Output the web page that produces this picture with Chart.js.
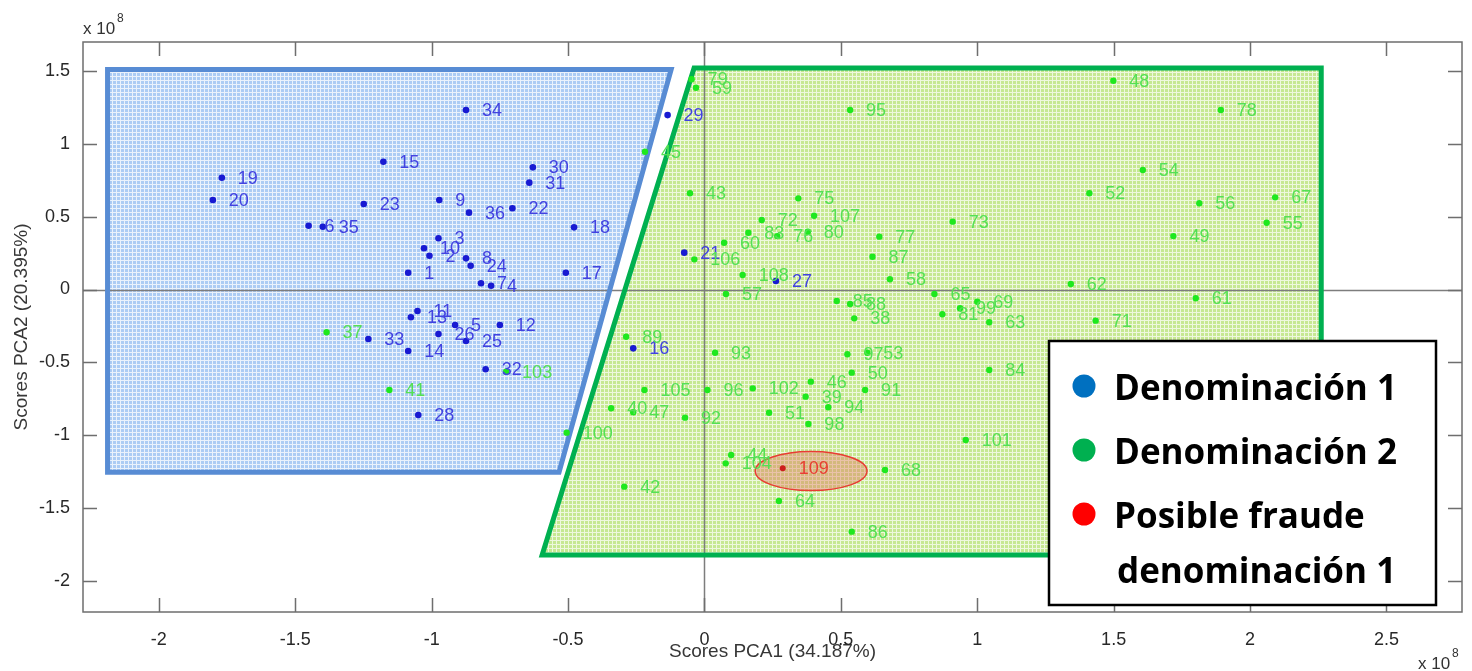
<!DOCTYPE html>
<html>
<head>
<meta charset="utf-8">
<script src="https://cdn.jsdelivr.net/npm/chart.js@4.4.1/dist/chart.umd.min.js"></script>
<style>
  html, body { margin: 0; padding: 0; background: #fff; }
  canvas { display: block; }
</style>
</head>
<body>
<canvas id="pca" width="1472" height="671"></canvas>
<script>
// PCA scores (units of 1e8) for each sample, grouped by denomination
const d1Ids = [1,2,3,4,5,6,7,8,9,10,11,12,13,14,15,16,17,18,19,20,21,22,23,24,25,26,27,28,29,30,31,32,33,34,35,36];
const d1X = [-1.086,-1.008,-0.975,-0.782,-0.914,-1.451,-0.819,-0.874,-0.972,-1.028,-1.052,-0.750,-1.076,-1.086,-1.177,-0.261,-0.508,-0.478,-1.769,-1.802,-0.074,-0.704,-1.249,-0.857,-0.874,-0.975,0.262,-1.049,-0.135,-0.629,-0.642,-0.802,-1.232,-0.874,-1.399,-0.863];
const d1Y = [0.115,0.232,0.352,0.026,-0.244,0.438,0.043,0.214,0.615,0.283,-0.148,-0.244,-0.191,-0.422,0.878,-0.404,0.115,0.427,0.768,0.615,0.253,0.558,0.587,0.163,-0.354,-0.306,0.058,-0.862,1.198,0.839,0.734,-0.548,-0.340,1.233,0.431,0.528];

const d2Ids = [37,38,39,40,41,42,43,44,45,46,47,48,49,50,51,52,53,54,55,56,57,58,59,60,61,62,63,64,65,67,68,69,71,72,73,75,76,77,78,79,80,81,83,84,85,86,87,88,89,91,92,93,94,95,96,97,98,99,100,101,102,103,104,105,106,107,108];
const d2X = [-1.385,0.549,0.371,-0.342,-1.155,-0.294,-0.053,0.098,-0.218,0.390,-0.261,1.499,1.719,0.540,0.237,1.411,0.597,1.607,2.061,1.814,0.079,0.680,-0.031,0.072,1.801,1.343,1.044,0.273,0.843,2.092,0.662,1.000,1.434,0.210,0.910,0.344,0.267,0.641,1.893,-0.047,0.379,0.872,0.161,1.044,0.485,0.540,0.616,0.534,-0.287,0.589,-0.071,0.039,0.454,0.534,0.011,0.524,0.381,0.937,-0.505,0.958,0.177,-0.727,0.078,-0.220,-0.037,0.402,0.140];
const d2Y = [-0.294,-0.198,-0.736,-0.816,-0.690,-1.354,0.661,-1.137,0.946,-0.633,-0.843,1.434,0.367,-0.571,-0.846,0.661,-0.434,0.821,0.459,0.592,-0.031,0.070,1.386,0.321,-0.060,0.038,-0.225,-1.453,-0.031,0.633,-1.240,-0.084,-0.214,0.477,0.466,0.626,0.367,0.363,1.233,1.444,0.397,-0.170,0.390,-0.553,-0.079,-1.663,0.225,-0.100,-0.324,-0.690,-0.880,-0.434,-0.809,1.233,-0.690,-0.445,-0.924,-0.129,-0.983,-1.034,-0.679,-0.565,-1.194,-0.690,0.207,0.507,0.100];

const fraudIds = [109];
const fraudX = [0.287];
const fraudY = [-1.228];

// Axis ticks
const xTickValues = [-2, -1.5, -1, -0.5, 0, 0.5, 1, 1.5, 2, 2.5];
const yTickValues = [-2, -1.5, -1, -0.5, 0, 0.5, 1, 1.5];

// Class regions (corners in score units) and the suspect sample's ellipse
const region1 = [[-2.188, 1.511], [-0.122, 1.511], [-0.533, -1.255], [-2.188, -1.255]];
const region2 = [[-0.038, 1.521], [2.261, 1.521], [2.261, -1.823], [-0.595, -1.823]];
const suspectEllipse = { cx: 0.391, cy: -1.247, rx: 0.205, ry: 0.134 };

const legendLabels = ['Denominación 1', 'Denominación 2', 'Posible fraude', 'denominación 1'];

const SANS = '"Liberation Sans", Arial, sans-serif';

function toPoints(xs, ys) { return xs.map((x, i) => ({ x: x, y: ys[i] })); }

function gridPattern(ctx, base, line) {
  const t = document.createElement('canvas');
  t.width = 4; t.height = 4;
  const g = t.getContext('2d');
  g.fillStyle = base; g.fillRect(0, 0, 4, 4);
  g.fillStyle = line;
  g.fillRect(0, 0, 4, 1);
  g.fillRect(0, 1, 1, 3);
  return ctx.createPattern(t, 'repeat');
}

function polyPath(ctx, xs, ys, pts) {
  ctx.beginPath();
  pts.forEach((p, i) => {
    const px = xs.getPixelForValue(p[0]), py = ys.getPixelForValue(p[1]);
    if (i === 0) ctx.moveTo(px, py); else ctx.lineTo(px, py);
  });
  ctx.closePath();
}

// Shaded class regions, zero lines and the suspect ellipse, under the points
const regionsPlugin = {
  id: 'regions',
  beforeDatasetsDraw(chart) {
    const { ctx, chartArea: a, scales: { x, y } } = chart;
    ctx.save();
    ctx.beginPath(); ctx.rect(a.left, a.top, a.width, a.height); ctx.clip();

    polyPath(ctx, x, y, region1);
    ctx.fillStyle = gridPattern(ctx, 'rgb(172,204,244)', 'rgba(255,255,255,0.75)');
    ctx.fill();
    polyPath(ctx, x, y, region2);
    ctx.fillStyle = gridPattern(ctx, 'rgb(198,232,146)', 'rgba(255,255,255,0.7)');
    ctx.fill();

    // zero lines
    ctx.strokeStyle = 'rgb(125,125,125)';
    ctx.lineWidth = 1.5;
    const x0 = Math.round(x.getPixelForValue(0)) + 0.5;
    const y0 = Math.round(y.getPixelForValue(0)) + 0.5;
    ctx.beginPath();
    ctx.moveTo(x0, a.top); ctx.lineTo(x0, a.bottom);
    ctx.moveTo(a.left, y0); ctx.lineTo(a.right, y0);
    ctx.stroke();

    ctx.lineJoin = 'miter';
    ctx.lineWidth = 5;
    polyPath(ctx, x, y, region1);
    ctx.strokeStyle = 'rgb(88,140,212)';
    ctx.stroke();
    polyPath(ctx, x, y, region2);
    ctx.strokeStyle = 'rgb(0,176,80)';
    ctx.stroke();

    const e = suspectEllipse;
    const ecx = x.getPixelForValue(e.cx), ecy = y.getPixelForValue(e.cy);
    const erx = Math.abs(x.getPixelForValue(e.cx + e.rx) - ecx);
    const ery = Math.abs(y.getPixelForValue(e.cy + e.ry) - ecy);
    ctx.beginPath();
    ctx.ellipse(ecx, ecy, erx, ery, 0, 0, Math.PI * 2);
    ctx.fillStyle = 'rgba(228,118,96,0.42)';
    ctx.fill();
    ctx.lineWidth = 1.5;
    ctx.strokeStyle = 'rgb(232,60,50)';
    ctx.stroke();
    ctx.restore();
  }
};

// Sample numbers next to each point
const idLabelsPlugin = {
  id: 'idLabels',
  afterDatasetsDraw(chart) {
    const ctx = chart.ctx;
    ctx.save();
    ctx.font = '18px ' + SANS;
    ctx.textBaseline = 'middle';
    ctx.textAlign = 'left';
    chart.data.datasets.forEach((ds, di) => {
      const meta = chart.getDatasetMeta(di);
      ctx.fillStyle = ds.idColor;
      meta.data.forEach((el, i) => {
        ctx.fillText(String(ds.ids[i]), el.x + 16, el.y + 1);
      });
    });
    ctx.restore();
  }
};

// Axes box with inward ticks, exponent notes and the class legend
const framePlugin = {
  id: 'frame',
  afterDraw(chart) {
    const { ctx, chartArea: a, scales: { x, y } } = chart;
    ctx.save();
    ctx.strokeStyle = 'rgb(110,110,110)';
    ctx.lineWidth = 1.5;
    ctx.strokeRect(a.left, a.top, a.width, a.height);
    const tl = 14;
    ctx.beginPath();
    xTickValues.forEach(v => {
      const px = Math.round(x.getPixelForValue(v)) + 0.5;
      ctx.moveTo(px, a.bottom); ctx.lineTo(px, a.bottom - tl);
      ctx.moveTo(px, a.top); ctx.lineTo(px, a.top + tl);
    });
    yTickValues.forEach(v => {
      const py = Math.round(y.getPixelForValue(v)) + 0.5;
      ctx.moveTo(a.left, py); ctx.lineTo(a.left + tl, py);
      ctx.moveTo(a.right, py); ctx.lineTo(a.right - tl, py);
    });
    ctx.stroke();

    // exponent notes
    ctx.fillStyle = 'rgb(50,50,50)';
    ctx.textAlign = 'left';
    ctx.textBaseline = 'alphabetic';
    ctx.font = '17px ' + SANS;
    ctx.fillText('x 10', a.left, a.top - 8);
    ctx.fillText('x 10', 1418, 669);
    ctx.font = '12px ' + SANS;
    ctx.fillText('8', a.left + 34, a.top - 20);
    ctx.fillText('8', 1452, 657);

    // legend
    const L = { left: 1049, top: 341, w: 387, h: 264 };
    ctx.fillStyle = '#fff';
    ctx.fillRect(L.left, L.top, L.w, L.h);
    ctx.strokeStyle = '#000';
    ctx.lineWidth = 2.5;
    ctx.strokeRect(L.left, L.top, L.w, L.h);
    const dots = ['#0070c0', '#00b050', '#ff0000'];
    dots.forEach((c, i) => {
      ctx.beginPath();
      ctx.arc(L.left + 35, L.top + 45 + i * 64, 11.5, 0, Math.PI * 2);
      ctx.fillStyle = c;
      ctx.fill();
    });
    ctx.fillStyle = '#000';
    ctx.font = 'bold 35px "Open Sans", "Liberation Sans", sans-serif';
    ctx.fillText(legendLabels[0], L.left + 65, L.top + 59);
    ctx.fillText(legendLabels[1], L.left + 65, L.top + 123);
    ctx.fillText(legendLabels[2], L.left + 65, L.top + 187);
    ctx.fillText(legendLabels[3], L.left + 68, L.top + 242);
    ctx.restore();
  }
};

const tickFont = { family: SANS, size: 18 };
const titleFont = { family: SANS, size: 19 };

new Chart(document.getElementById('pca'), {
  type: 'scatter',
  data: {
    datasets: [
      {
        label: legendLabels[0], data: toPoints(d1X, d1Y), ids: d1Ids,
        pointRadius: 3.3, pointBorderWidth: 0,
        pointBackgroundColor: 'rgb(24,26,210)', idColor: 'rgb(66,66,224)'
      },
      {
        label: legendLabels[1], data: toPoints(d2X, d2Y), ids: d2Ids,
        pointRadius: 3.2, pointBorderWidth: 0,
        pointBackgroundColor: 'rgb(30,232,30)', idColor: 'rgb(84,224,84)'
      },
      {
        label: legendLabels[2] + ' ' + legendLabels[3], data: toPoints(fraudX, fraudY), ids: fraudIds,
        pointRadius: 3, pointBorderWidth: 0,
        pointBackgroundColor: 'rgb(205,30,30)', idColor: 'rgb(232,62,50)'
      }
    ]
  },
  options: {
    responsive: false,
    animation: false,
    events: [],
    layout: { padding: { top: 42, right: 10, left: 0, bottom: 0 } },
    plugins: { legend: { display: false }, tooltip: { enabled: false } },
    scales: {
      x: {
        type: 'linear', position: 'bottom', min: -2.278, max: 2.777,
        afterBuildTicks: s => { s.ticks = xTickValues.map(v => ({ value: v })); },
        afterFit: s => { s.height = 59; },
        grid: { display: false }, border: { display: false },
        ticks: { font: tickFont, color: 'rgb(40,40,40)', padding: 9, autoSkip: false, maxRotation: 0, callback: v => String(v) },
        title: { display: true, text: 'Scores PCA1 (34.187%)', font: titleFont, color: 'rgb(55,55,55)', padding: { top: 0, bottom: 7.6 } }
      },
      y: {
        type: 'linear', position: 'left', min: -2.215, max: 1.7,
        afterBuildTicks: s => { s.ticks = yTickValues.map(v => ({ value: v })); },
        afterFit: s => { s.width = 83; },
        grid: { display: false }, border: { display: false },
        ticks: { font: tickFont, color: 'rgb(40,40,40)', padding: 5, autoSkip: false, callback: v => String(v) },
        title: { display: true, text: 'Scores PCA2 (20.395%)', font: titleFont, color: 'rgb(55,55,55)', padding: { top: 10.5, bottom: 0 } }
      }
    }
  },
  plugins: [regionsPlugin, idLabelsPlugin, framePlugin]
});
</script>
</body>
</html>
